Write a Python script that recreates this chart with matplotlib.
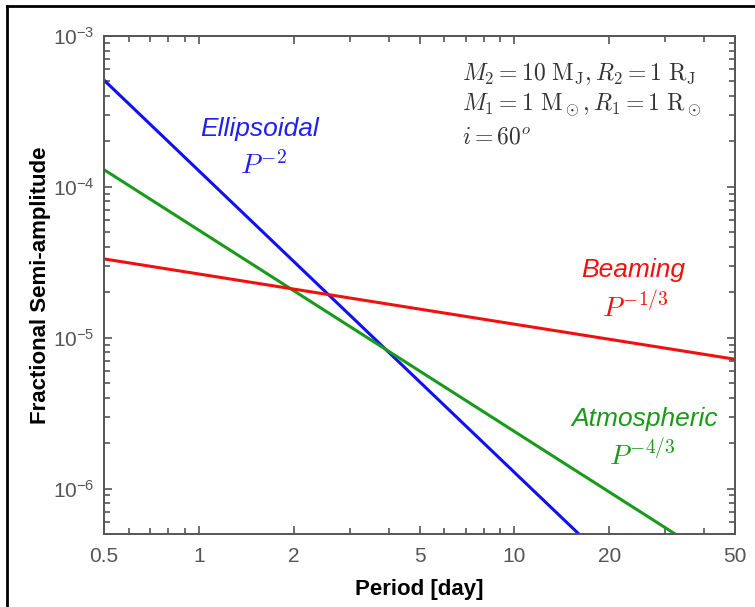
import matplotlib
matplotlib.use("Agg")
import matplotlib.pyplot as plt
from matplotlib.lines import Line2D
from matplotlib.ticker import FixedLocator, FixedFormatter, LogLocator, NullFormatter

plt.rcParams['font.family'] = ['Liberation Sans', 'DejaVu Sans']
plt.rcParams['mathtext.fontset'] = 'cm'

# end points of each curve (period in days, amplitude)
ell_period = [0.5, 16.0]
ell_amp = [5.1e-4, 5.0e-7]
atm_period = [0.5, 32.3]
atm_amp = [1.3e-4, 5.0e-7]
beam_period = [0.5, 50.0]
beam_amp = [3.33e-5, 7.2e-6]

xticks = [0.5, 1, 2, 5, 10, 20, 50]
xticklabels = ['0.5', '1', '2', '5', '10', '20', '50']

W, H = 755, 607
fig = plt.figure(figsize=(W / 100, H / 100), dpi=100)
ax = fig.add_axes([104 / W, 1 - 534 / H, (735 - 104) / W, (534 - 36) / H])

ax.plot(ell_period, ell_amp, color='#1010f0', lw=2.2)
ax.plot(atm_period, atm_amp, color='#1a9a1a', lw=2.2)
ax.plot(beam_period, beam_amp, color='#f01010', lw=2.2)

ax.set_xscale('log')
ax.set_yscale('log')
ax.set_xlim(0.5, 50)
ax.set_ylim(5.0e-7, 1e-3)

gray = '#555555'
ax.xaxis.set_major_locator(FixedLocator(xticks))
ax.xaxis.set_major_formatter(FixedFormatter(xticklabels))
ax.xaxis.set_minor_locator(LogLocator(base=10, subs=range(1, 10)))
ax.xaxis.set_minor_formatter(NullFormatter())
ax.yaxis.set_major_locator(LogLocator(base=10, numticks=10))
ax.yaxis.set_minor_locator(LogLocator(base=10, subs=range(2, 10), numticks=10))
ax.yaxis.set_minor_formatter(NullFormatter())

ax.tick_params(which='both', direction='in', top=True, right=True, colors=gray,
               labelcolor=gray, labelsize=15, width=1.2)
ax.tick_params(which='major', length=6, pad=9)
ax.tick_params(axis='y', which='major', pad=7)
ax.tick_params(which='minor', length=4)
for s in ax.spines.values():
    s.set_color(gray)
    s.set_linewidth(1.4)

ax.set_xlabel('Period [day]', fontsize=16, fontweight='bold', labelpad=10)
ax.set_ylabel('Fractional Semi-amplitude', fontsize=16, fontweight='bold', labelpad=1)

ax.text(0.246, 0.813, 'Ellipsoidal', transform=ax.transAxes, color='#2020f0',
        fontsize=19, style='italic', ha='center', va='center')
ax.text(0.252, 0.740, r'$P^{-2}$', transform=ax.transAxes, color='#2020f0',
        fontsize=20, ha='center', va='center')
ax.text(0.838, 0.531, 'Beaming', transform=ax.transAxes, color='#f01010',
        fontsize=19, style='italic', ha='center', va='center')
ax.text(0.842, 0.457, r'$P^{-1/3}$', transform=ax.transAxes, color='#f01010',
        fontsize=20, ha='center', va='center')
ax.text(0.857, 0.230, 'Atmospheric', transform=ax.transAxes, color='#1a9a1a',
        fontsize=19, style='italic', ha='center', va='center')
ax.text(0.853, 0.160, r'$P^{-4/3}$', transform=ax.transAxes, color='#1a9a1a',
        fontsize=20, ha='center', va='center')

info = [r'$M_2 = 10\ \mathrm{M_J}, R_2 = 1\ \mathrm{R_J}$',
        r'$M_1 = 1\ \mathrm{M}_\odot, R_1 = 1\ \mathrm{R}_\odot$',
        r'$i = 60^o$']
for k, line in enumerate(info):
    ax.text(0.568, 0.924 - k * 0.064, line, transform=ax.transAxes, color='#333333',
            fontsize=17, ha='left', va='center')

# outer frame (cut on the right and bottom)
fig.add_artist(Line2D([7 / W, 1], [1 - 6 / H, 1 - 6 / H], color='black', lw=2))
fig.add_artist(Line2D([7 / W, 7 / W], [0, 1 - 6 / H], color='black', lw=2))

fig.savefig('out.png', dpi=100)
